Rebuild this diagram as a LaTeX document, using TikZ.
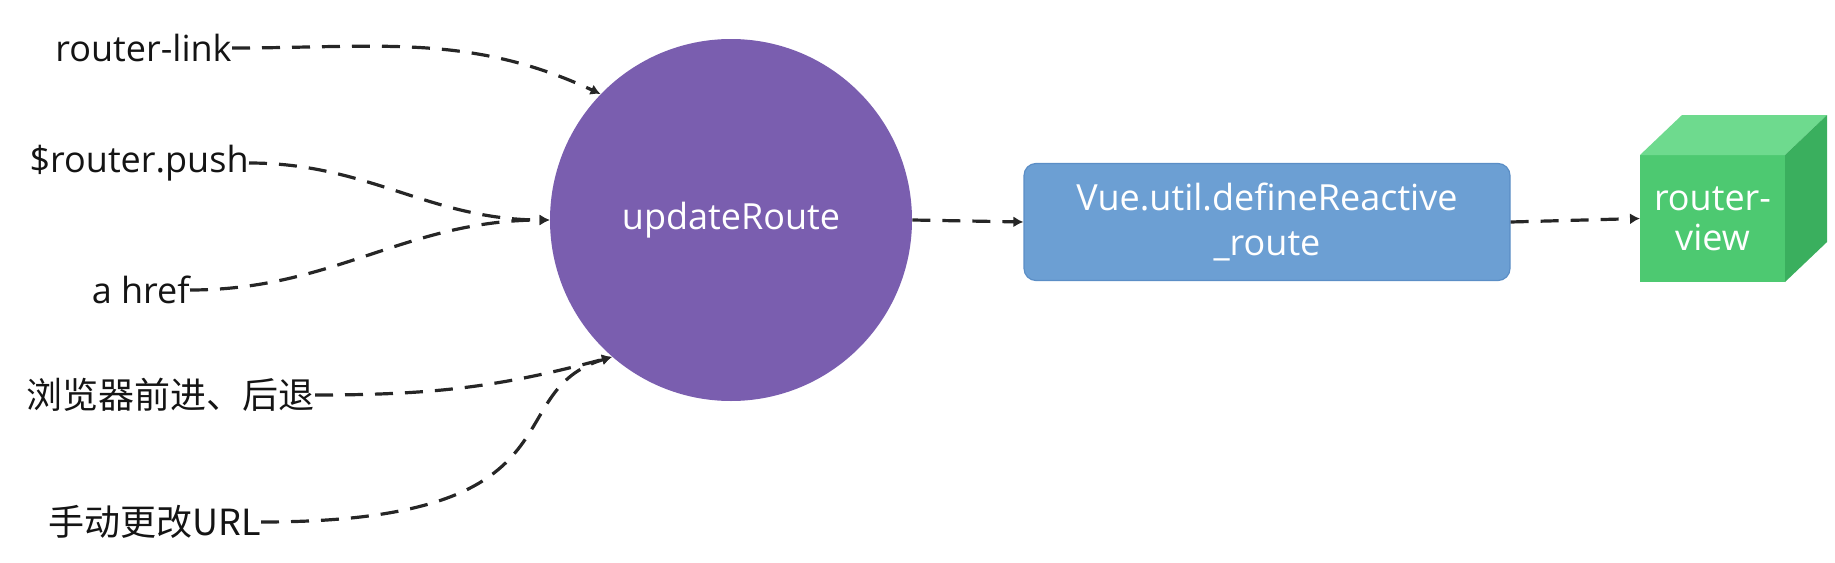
\documentclass[tikz,border=0pt]{standalone}
\usepackage{fontspec}
\setmainfont{Open Sans}
\newfontfamily\cjk{Noto Sans CJK SC}
\usetikzlibrary{arrows.meta,positioning}

\definecolor{hubpurple}{HTML}{7A5EAF}
\definecolor{boxblue}{HTML}{6C9FD3}
\definecolor{boxedge}{HTML}{5B8EC6}
\definecolor{cubefront}{HTML}{4DC971}
\definecolor{cubetop}{HTML}{6EDA8E}
\definecolor{cubeside}{HTML}{3AAF5E}

\begin{document}
\begin{tikzpicture}[x=0.5pt,y=-0.5pt,>=Latex,
src label/.style={anchor=east,inner xsep=0pt,inner ysep=2pt,text=black!92,font=\fontsize{18}{22}\selectfont},
hub/.style={circle,fill=hubpurple,minimum size=181pt,inner sep=0pt,text=white,font=\fontsize{18}{22}\selectfont},
reactive box/.style={draw=boxedge,line width=0.6pt,fill=boxblue,rounded corners=6pt,minimum width=243pt,minimum height=58.5pt,align=center,text=white,font=\fontsize{18}{22.5}\selectfont},
view face/.style={fill=cubefront,minimum width=72.5pt,minimum height=63.5pt,outer sep=0pt,inner sep=0pt,align=center,text=white,font=\fontsize{18}{20}\selectfont},
flow/.style={-{Latex[length=5pt,width=5.5pt]},line width=1.6pt,dash pattern=on 9pt off 6pt,black!85}]
\useasboundingbox (0,0) rectangle (1835,562);
% sources
\node[src label] (link) at (232,48) {router-link};
\node[src label] (push) at (249,163) {\$router.push};
\node[src label] (href) at (190,290) {a href};
\node[src label] (back) at (315,395) {\cjk 浏览器前进、后退};
\node[src label] (manual) at (261,522) {\cjk 手动更改URL};
% main chain
\node[hub] (update) at (731,220) {updateRoute};
\node[reactive box] (reactive) at (1267,222) {Vue.util.defineReactive\\\_route};
\node[view face] (view) at (1712.5,218.5) {router-\\view};
\fill[cubetop] (view.north west) -- ++(42,-40) -- ++(145,0) -- (view.north east) -- cycle;
\fill[cubeside] (view.north east) -- ++(42,-40) -- ++(0,127) -- (view.south east) -- cycle;
% connectors
\draw[flow] (link.east) to[out=0,in=155] (update.136);
\draw[flow] (push.east) to[out=0,in=180] (update.west);
\draw[flow] (href.east) to[out=0,in=180] (update.west);
\draw[flow] (back.east) to[out=0,in=195] (update.229);
\draw[flow] (manual.east) .. controls (590,522) and (495,392) .. (update.229);
\draw[flow] (update.east) -- (reactive.west);
\draw[flow] (reactive.east) -- (view.west);
\end{tikzpicture}
\end{document}
